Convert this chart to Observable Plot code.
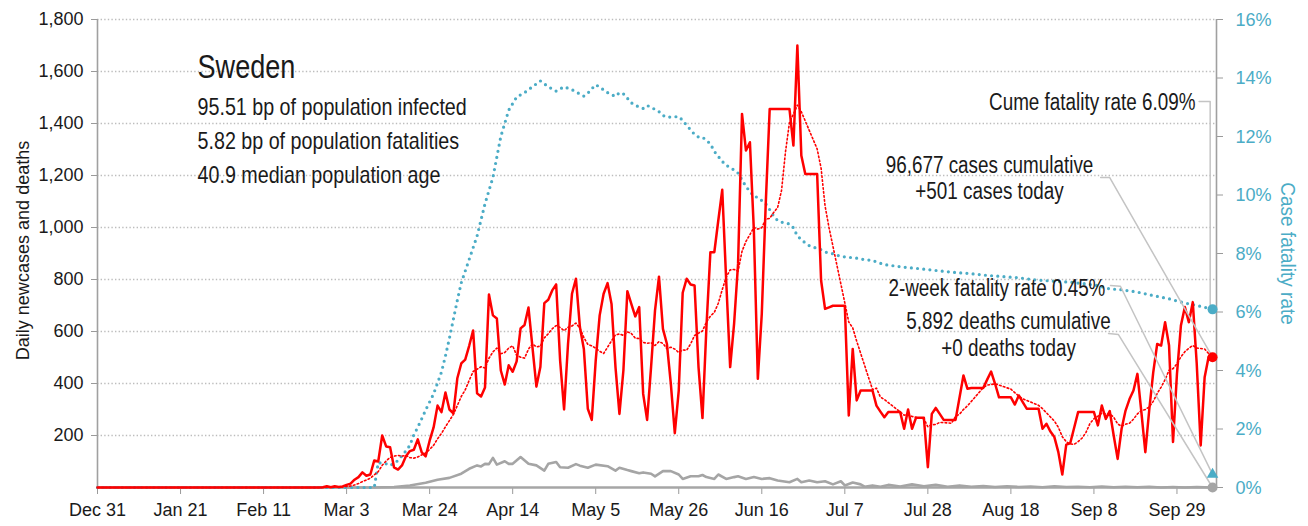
<!DOCTYPE html>
<html><head><meta charset="utf-8">
<script src="https://cdn.jsdelivr.net/npm/d3@7"></script>
<script src="https://cdn.jsdelivr.net/npm/@observablehq/plot@0.6"></script>
<style>
body{margin:0;background:#fff;}
#chart svg{display:block;}
</style></head><body><div id="chart"></div>
<script>
// ---------------- data ----------------
const startDate = "2019-12-31";           // day 0 of every daily series
// daily new cases, one value per day from Dec 31
const dailyCases = [
0,0,0,0,0,0,0,0,0,0, 0,0,0,0,0,0,0,0,0,0, 0,0,0,0,0,0,0,0,0,0,
0,0,0,0,0,0,0,0,0,0, 0,0,0,0,0,0,0,0,0,0, 0,0,0,0,0,0,0,
1,5,1,5,2,4,10,15,30,40,58,45,50,
104,100,200,158,155,77,69,85,120,140,
145,185,135,120,180,231,315,290,365,300,
285,420,477,492,545,604,362,350,385,742,
662,650,450,396,470,445,485,612,625,692,
540,388,463,709,722,758,781,488,300,553,
745,803,617,533,303,260,488,662,745,786,
706,463,283,450,755,706,658,694,360,260,
463,681,811,610,553,399,209,373,749,803,
781,777,463,267,617,905,905,1027,1145,796,
463,630,860,1437,1296,1328,988,418,668,1091,
1456,1456,1456,1456,1456,1456,1315,1700,1277,1206,
1206,1206,1206,796,687,693,699,699,699,699,
277,533,335,373,373,373,373,315,292,270,
290,290,290,290,226,300,226,268,268,268,
78,283,306,283,260,260,260,260,345,431,
380,383,383,383,383,415,446,399,347,347,
347,347,319,354,328,303,303,303,303,226,
245,215,194,136,50,165,170,230,290,290,
290,290,290,239,315,264,294,200,110,226,
296,340,373,437,290,136,300,443,552,546,
636,546,175,437,623,694,636,713,476,162,
424,502,501
];
// daily deaths, [day, deaths]
const deathsByDay = [
[0,0],[70,0],[72,1],[75,2],[79,8],[83,18],[86,30],[89,37],[92,53],[94,72],[96,85],[97,81],[98,91],[99,90],
[100,114],[101,88],[103,101],[104,91],[105,91],[107,117],[109,91],[111,85],[113,65],[114,91],[116,98],[117,78],
[119,76],[121,90],[122,84],[124,76],[126,88],[129,82],[131,65],[132,76],[134,67],[135,63],[137,55],[138,58],
[140,53],[141,43],[143,63],[145,63],[147,50],[148,33],[150,43],[152,43],[153,48],[154,40],[156,33],[157,50],
[159,33],[161,40],[162,43],[164,33],[166,40],[168,33],[170,36],[172,27],[175,20],[177,33],[178,20],[180,27],
[182,20],[184,24],[186,12],[188,24],[189,8],[191,19],[193,12],[194,3],[196,8],[198,3],[200,10],[203,4],
[206,12],[209,5],[212,10],[215,3],[218,8],[221,3],[224,6],[227,2],[230,5],[233,2],[236,4],[239,1],[242,5],
[245,2],[248,3],[251,1],[254,4],[257,1],[260,3],[263,1],[266,3],[269,0],[272,2],[275,0],[278,2],[282,0]
];
// cumulative case fatality rate (%), [day, pct]
const cfrByDay = [
[0,0],[70,0],[71,0.85],[73,0.81],[74,0.75],[76,0.92],[78,1.25],[79,1.44],[80,1.8],[81,2.06],
[82,2.35],[83,2.65],[85,3.2],[87,3.95],[88,4.5],[89,5.1],[90,5.75],[91,6.4],[92,7.0],[93,7.4],
[94,7.8],[96,8.6],[98,9.7],[100,10.6],[102,12.0],[104,12.9],[106,13.35],[108,13.5],[110,13.7],[112,13.9],
[114,13.7],[116,13.55],[118,13.7],[120,13.6],[123,13.38],[124,13.48],[125,13.63],[126,13.77],[127,13.69],[129,13.5],
[130,13.43],[131,13.37],[132,13.5],[133,13.46],[134,13.31],[135,13.15],[137,13.0],[138,12.96],[139,13.06],[140,13.0],
[142,12.85],[143,12.72],[144,12.66],[147,12.68],[148,12.55],[149,12.38],[150,12.23],[151,12.07],[152,11.98],[153,11.98],
[155,11.75],[156,11.49],[157,11.32],[158,11.15],[159,11.01],[160,10.95],[162,10.75],[164,10.29],[165,10.12],[166,9.95],
[167,9.92],[169,9.7],[170,9.5],[171,9.28],[172,9.13],[173,9.07],[175,9.01],[176,8.88],[177,8.6],[179,8.36],
[180,8.27],[182,8.17],[183,8.13],[184,8.05],[186,7.99],[188,7.9],[190,7.87],[192,7.84],[194,7.79],[196,7.76],
[199,7.62],[204,7.53],[208,7.48],[212,7.42],[216,7.36],[221,7.31],[225,7.25],[229,7.21],[233,7.17],[237,7.1],
[242,7.05],[246,7.02],[250,6.96],[253,6.9],[256,6.79],[259,6.76],[263,6.68],[267,6.56],[271,6.45],[274,6.34],
[278,6.22],[280,6.16],[282,6.09]
];
const twoWeekRate = 0.45;                 // %
const xTickDays = [0,21,42,63,84,105,126,147,168,189,210,231,252,273];
const yTicks = [200,400,600,800,1000,1200,1400,1600,1800];
const pctTicks = [0,2,4,6,8,10,12,14,16];
const countryName = "Sweden";
const summaryLines = ["95.51 bp of population infected","5.82 bp of population fatalities","40.9 median population age"];
const cumeLabel = "Cume fatality rate 6.09%";
const casesLines = ["96,677 cases cumulative","+501 cases today"];
const twoWeekLabel = "2-week fatality rate 0.45%";
const deathsLines = ["5,892 deaths cumulative","+0 deaths today"];
const leftTitle = "Daily newcases and deaths";
const rightTitle = "Case fatality rate";

// ---------------- build ----------------
const t0 = Date.parse(startDate);
const day = d => new Date(t0 + d * 864e5);
const pct = 1800 / 16;                     // right-axis percent -> left-axis units
const RED = "#FF0000", BLUE = "#4BACC6", GRAY = "#A5A5A5", LEAD = "#c4c4c4", INK = "#1a1a1a";
const FONT = "'Liberation Sans',Arial,sans-serif";

const cases = dailyCases.map((v, i) => ({date: day(i), cases: v}));
const deaths = deathsByDay.map(([d, v]) => ({date: day(d), v}));
const cfr = cfrByDay.map(([d, p]) => ({date: day(d), y: p * pct}));
const lastDay = dailyCases.length - 1;
const lastCase = cases[lastDay];
const lastCfr = cfr[cfr.length - 1];
const lastDeath = deaths[deaths.length - 1];

const leaders = [
  {id: "cume", pts: [[278.6, 1485], [281.4, 1485], [281.4, lastCfr.y], [lastDay, lastCfr.y]]},
  {id: "cases", pts: [[253.7, 1192], [256.0, 1192], [lastDay, lastCase.cases]]},
  {id: "two", pts: [[256.2, 777], [258.7, 774], [lastDay, twoWeekRate * pct]]},
  {id: "deaths", pts: [[255.7, 592], [258.2, 588], [lastDay, lastDeath.v]]}
].flatMap(l => l.pts.map(([d, y]) => ({id: l.id, date: day(d), y})));

const note = (text, x, y, anchor, size, dy = 0) =>
  Plot.text([text], {x: day(x), y, dy, textAnchor: anchor, lineAnchor: "top", fontSize: size, fill: INK});

const chart = Plot.plot({
  width: 1308, height: 526,
  marginLeft: 97, marginRight: 92, marginTop: 19, marginBottom: 39,
  style: {fontFamily: FONT, fontSize: "18px", color: INK, background: "#fff"},
  x: {type: "utc", domain: [day(0), day(283)], axis: null},
  y: {domain: [0, 1800], axis: null},
  marks: [
    Plot.ruleY(yTicks, {stroke: "#bdbdbd", strokeWidth: 1.4, strokeDasharray: "1.4 2.2"}),
    Plot.axisY(yTicks, {anchor: "left", tickFormat: d3.format(","), tickSize: 6, tickPadding: 8,
      stroke: "#9a9a9a", fill: INK, fontSize: 18, label: null}),
    Plot.axisY(pctTicks.map(p => p * pct), {anchor: "right", tickFormat: d => Math.round(d / pct) + "%",
      tickSize: 6, tickPadding: 13, stroke: "#9a9a9a", fill: BLUE, fontSize: 19, label: null}),
    Plot.axisX(xTickDays.map(day), {tickFormat: d3.utcFormat("%b %-d"), tickSize: 7, tickPadding: 9,
      stroke: "#9a9a9a", fill: INK, fontSize: 18, label: null}),
    Plot.ruleX([day(0), day(283)], {stroke: "#a0a0a0", strokeWidth: 1.6}),
    Plot.ruleY([0], {stroke: "#a6a6a6", strokeWidth: 2.6}),
    Plot.line(deaths, {x: "date", y: "v", stroke: GRAY, strokeWidth: 2.6}),
    Plot.line(cfr, {x: "date", y: "y", stroke: BLUE, strokeWidth: 3.2, strokeDasharray: "0 6.2", strokeLinecap: "round"}),
    Plot.line(cases, {x: "date", y: "cases", stroke: RED, strokeWidth: 2.5}),
    Plot.line(cases, Plot.windowY({k: 7, anchor: "end"}, {x: "date", y: "cases", stroke: RED, strokeWidth: 1.6, strokeDasharray: "1.6 2.4"})),
    Plot.line(leaders, {x: "date", y: "y", z: "id", stroke: LEAD, strokeWidth: 1.5}),
    Plot.dot([lastDeath], {x: "date", y: "v", r: 5, fill: GRAY}),
    Plot.dot([lastCfr], {x: "date", y: "y", r: 5, fill: BLUE}),
    Plot.dot([{date: lastCase.date, y: twoWeekRate * pct}], {x: "date", y: "y", r: 4.3, symbol: "triangle", fill: BLUE}),
    Plot.dot([lastCase], {x: "date", y: "cases", r: 5, fill: RED}),
    note(countryName, 25.3, 1664, "start", 33),
    ...summaryLines.map((t, i) => note(t, 25.3, 1500, "start", 24, i * 34)),
    note(cumeLabel, 277.7, 1516, "end", 23),
    ...casesLines.map((t, i) => note(t, 225.6, 1274, "middle", 23, i * 26.6)),
    note(twoWeekLabel, 254.9, 801, "end", 23),
    ...deathsLines.map((t, i) => note(t, 230.4, 673, "middle", 23, i * 27.3)),
    Plot.text([leftTitle], {frameAnchor: "left", dx: -75, dy: -3, rotate: -90, textAnchor: "middle", fontSize: 19, fill: INK}),
    Plot.text([rightTitle], {frameAnchor: "right", dx: 71, rotate: 90, textAnchor: "middle", fontSize: 20, fill: BLUE})
  ]
});
document.getElementById("chart").appendChild(chart);

// condensed look: squeeze the large annotation texts horizontally
chart.querySelectorAll("text").forEach(el => {
  if (el.querySelector("tspan")) return;
  const fs = parseFloat(getComputedStyle(el).fontSize);
  let f = 1;
  if (fs >= 22) f = 0.82;
  else if (fs >= 19) f = 0.95;
  if (f === 1) return;
  const L = el.getComputedTextLength();
  el.setAttribute("textLength", (L * f).toFixed(1));
  el.setAttribute("lengthAdjust", "spacingAndGlyphs");
});
</script></body></html>
